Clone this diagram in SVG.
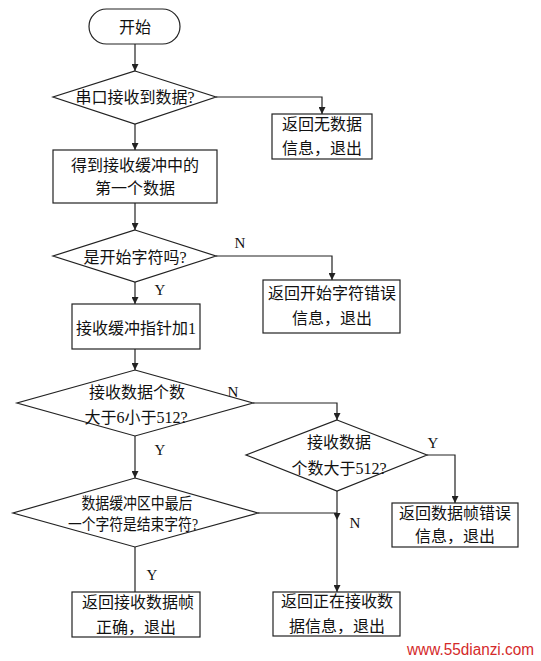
<svg xmlns="http://www.w3.org/2000/svg" width="541" height="661" viewBox="0 0 541 661">
<defs>
<marker id="arr" viewBox="0 0 10 10" refX="10" refY="5" markerWidth="7" markerHeight="7" orient="auto" markerUnits="userSpaceOnUse">
<path d="M0,0 L10,5 L0,10 z" fill="#222"/>
</marker>
<style>
.shape{fill:#fff;stroke:#222;stroke-width:1.2}
.t{font-family:"Liberation Serif","Noto Sans CJK SC",serif;font-size:16px;fill:#111;text-anchor:middle}
.lbl{font-family:"Liberation Serif",serif;font-size:15px;fill:#111;text-anchor:middle}
.c{fill:none;stroke:#222;stroke-width:1.2}
.wm{font-family:"Liberation Sans",Arial,sans-serif;font-size:16px;fill:#d42a2a}
</style>
</defs>
<rect width="541" height="661" fill="#fff"/>
<g id="connectors">
<path class="c" d="M135,44 V71" marker-end="url(#arr)"/>
<path class="c" d="M135,124 V150" marker-end="url(#arr)"/>
<path class="c" d="M216,97 H322 V114" marker-end="url(#arr)"/>
<path class="c" d="M135,203 V230" marker-end="url(#arr)"/>
<path class="c" d="M216,256 H332 V280" marker-end="url(#arr)"/>
<path class="c" d="M135,282 V304" marker-end="url(#arr)"/>
<path class="c" d="M135,349 V370" marker-end="url(#arr)"/>
<path class="c" d="M253,403 H337 V420" marker-end="url(#arr)"/>
<path class="c" d="M135,436 V478" marker-end="url(#arr)"/>
<path class="c" d="M427,455 H455 V503" marker-end="url(#arr)"/>
<path class="c" d="M337,491 V520" marker-end="url(#arr)"/>
<path class="c" d="M258,513 H337"/>
<path class="c" d="M337,520 V592" marker-end="url(#arr)"/>
<path class="c" d="M135,547 V592"/>
<text class="lbl" x="240" y="248">N</text>
<text class="lbl" x="160" y="295">Y</text>
<text class="lbl" x="233" y="397">N</text>
<text class="lbl" x="160" y="455">Y</text>
<text class="lbl" x="433" y="448">Y</text>
<text class="lbl" x="355" y="528">N</text>
<text class="lbl" x="152" y="580">Y</text>
</g>
<g id="start">
<rect class="shape" x="89" y="9" width="91" height="35" rx="17.5"/>
<text class="t" x="135" y="33">开始</text>
</g>
<g id="d1">
<polygon class="shape" points="135,71 216,97 135,124 53,97"/>
<text class="t" x="135" y="103">串口接收到数据?</text>
</g>
<g id="nodata">
<rect class="shape" x="272" y="114" width="100" height="45"/>
<text class="t" x="322" y="130">返回无数据</text>
<text class="t" x="322" y="154">信息，退出</text>
</g>
<g id="first">
<rect class="shape" x="53" y="150" width="164" height="53"/>
<text class="t" x="135" y="171">得到接收缓冲中的</text>
<text class="t" x="135" y="194">第一个数据</text>
</g>
<g id="d2">
<polygon class="shape" points="135,230 216,256 135,282 53,256"/>
<text class="t" x="135" y="263">是开始字符吗?</text>
</g>
<g id="starterr">
<rect class="shape" x="263" y="280" width="137" height="53"/>
<text class="t" x="332" y="299">返回开始字符错误</text>
<text class="t" x="332" y="324">信息，退出</text>
</g>
<g id="ptr">
<rect class="shape" x="72" y="304" width="128" height="45"/>
<text class="t" x="136" y="334">接收缓冲指针加1</text>
</g>
<g id="d3">
<polygon class="shape" points="135,370 253,403 135,436 17,403"/>
<text class="t" x="137" y="398">接收数据个数</text>
<text class="t" x="136" y="423">大于6小于512?</text>
</g>
<g id="d4">
<polygon class="shape" points="337,420 427,455 337,491 246,455"/>
<text class="t" x="339" y="448">接收数据</text>
<text class="t" x="339" y="474">个数大于512?</text>
</g>
<g id="frameerr">
<rect class="shape" x="392" y="503" width="126" height="44"/>
<text class="t" x="455" y="519">返回数据帧错误</text>
<text class="t" x="455" y="542">信息，退出</text>
</g>
<g id="d5">
<polygon class="shape" points="135,478 258,513 135,547 13,513"/>
<text class="t" x="137" y="509" textLength="111" lengthAdjust="spacingAndGlyphs">数据缓冲区中最后</text>
<text class="t" x="133" y="530" textLength="130" lengthAdjust="spacingAndGlyphs">一个字符是结束字符?</text>
</g>
<g id="ok">
<rect class="shape" x="72" y="592" width="128" height="45"/>
<text class="t" x="138" y="608">返回接收数据帧</text>
<text class="t" x="136" y="633">正确，退出</text>
</g>
<g id="receiving">
<rect class="shape" x="273" y="592" width="127" height="44"/>
<text class="t" x="337" y="607">返回正在接收数</text>
<text class="t" x="337" y="632">据信息，退出</text>
</g>
<text class="wm" x="407" y="655" textLength="127" lengthAdjust="spacingAndGlyphs">www.55dianzi.com</text>
</svg>
